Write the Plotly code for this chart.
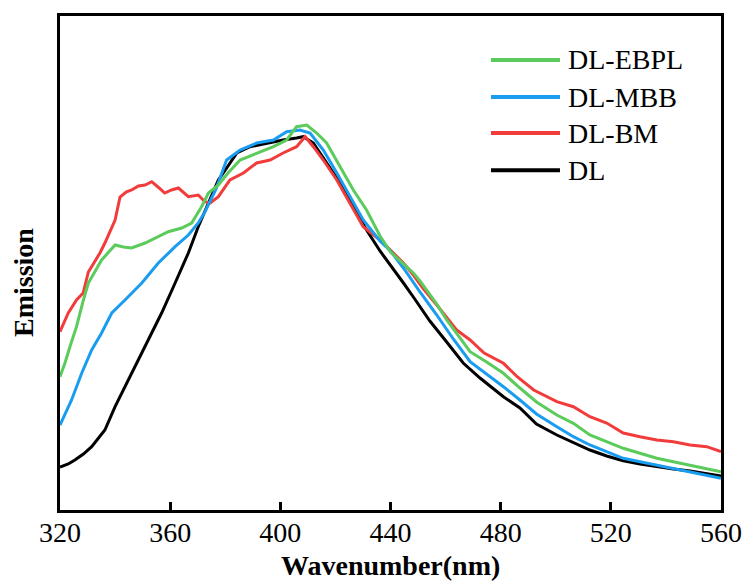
import plotly.graph_objects as go

# ---------------- data ----------------
dl_x = [320, 323, 325.4, 328.5, 331.5, 336.3, 340, 343.6, 348.4, 353.3,
        356.9, 361.8, 366.6, 370.2, 373.9, 377.5, 379.3, 384.2, 389, 395,
        401, 405.9, 408.3, 412, 416.8, 421.7, 426.5, 431.3, 436.2, 440,
        444.7, 448.3, 454.3, 460.4, 466.4, 472.5, 481, 487, 493, 500.4,
        505, 512.4, 518.5, 524.5, 530.6, 536.7, 542.7, 548.8, 554.8, 560]
dl_y = [43, 46, 50, 56, 63.3, 80, 103.3, 123.3, 150, 177,
        197, 227, 257, 283.3, 307, 330, 337, 357, 363.3, 367,
        370, 372, 373.3, 367, 347, 327, 303.3, 280, 259, 245,
        227, 213, 189, 168, 147, 132, 113.3, 102, 86, 75,
        69, 60, 54, 49.3, 46, 43.3, 41, 39, 36.7, 34]

mbb_x = [320, 324.2, 327.9, 331.5, 335.1, 338.8, 343.6, 349.7, 355.7, 361.8,
         366.6, 370.2, 372.6, 376.5, 380.5, 385.4, 391.4, 397.5, 402.3, 407.1,
         410.8, 415.6, 420.5, 425.3, 430.1, 436.2, 440, 444.7, 450.7, 456.8,
         462.8, 468.9, 474.9, 481, 487, 493, 500.4, 506.4, 512.4, 518.5,
         524.5, 530.6, 536.7, 542.7, 548.8, 554.8, 560]
mbb_y = [85, 110, 137, 160, 177, 197, 210, 227, 247, 263.3,
         275, 287, 298, 320, 350, 360, 367, 370, 378.3, 380,
         377, 360, 337, 313.3, 290, 269, 259, 242, 218, 195,
         171, 148.3, 136, 123.3, 110, 96, 83.3, 73.3, 65, 58.3,
         51.7, 48.3, 45, 41.7, 38.3, 35, 31.7]

ebpl_x = [320, 321.8, 323.6, 326, 328.5, 330.3, 335.1, 340, 343, 346,
          350.9, 354.5, 359.3, 364.2, 367.8, 371.4, 373.9, 377.5, 381, 385.4,
          391.4, 397.5, 402.3, 405.9, 409.6, 413.2, 416.8, 421.7, 426.5, 431.3,
          436.2, 440, 444.7, 448.3, 450.7, 456.8, 460.4, 468.9, 474.9, 481,
          487, 493, 500.4, 506.4, 512.4, 518.5, 524.5, 530.6, 536.7, 542.7,
          548.8, 554.8, 560]
ebpl_y = [133.3, 147, 163.3, 183.3, 210, 227, 250, 265, 263, 262,
          267, 272, 278.3, 282, 287, 303.3, 317, 325, 337, 350,
          357, 363.3, 370, 383.3, 385, 377, 367, 343.3, 320, 300,
          274, 258, 246, 237, 229, 206, 190, 158.3, 148, 136.7,
          122, 108, 95, 86.7, 75, 68.3, 61.7, 56.7, 51.7, 48.3,
          45, 41.7, 38.3]

bm_x = [320, 323, 326, 328.4, 330.3, 334.5, 336.3, 340, 341.8, 344,
        346, 348.5, 350.9, 353.3, 356, 358, 360.5, 363, 366.6, 370.2,
        372.6, 374.5, 377.5, 381.7, 386.6, 391.4, 396.3, 401, 405.9, 409,
        412, 415.6, 420.5, 425.3, 430.1, 436.2, 440, 444.7, 448.3, 452,
        456.8, 460.4, 464, 468.9, 474, 481, 486, 492, 500.4, 506.4,
        512.4, 518.5, 524.5, 530.6, 536.7, 542.7, 548.8, 554.8, 560]
bm_y = [178.3, 197, 210, 217, 238, 257, 267, 290, 313, 318,
        320, 324, 325, 328.3, 322, 317, 320, 322, 313.3, 315,
        308.3, 307, 313.3, 330, 337, 347, 350, 357, 363.3, 373.3,
        363.3, 350, 330, 307, 283.3, 270, 260, 247, 235, 221,
        205, 192, 180, 170, 157, 146.7, 133.3, 120, 108.3, 103.3,
        93.3, 87, 77, 73.3, 70, 68.3, 65, 63.3, 58.3]

x_ticks = [320, 360, 400, 440, 480, 520, 560]
legend_names = ["DL-EBPL", "DL-MBB", "DL-BM", "DL"]

# ---------------- styling ----------------
C_BLACK = "#000000"
C_RED = "#F23C3C"
C_BLUE = "#1A9CF0"
C_GREEN = "#5BCB5B"
FONT = "Liberation Serif, Times New Roman, serif"

series = [
    ("DL", dl_x, dl_y, C_BLACK),
    ("DL-BM", bm_x, bm_y, C_RED),
    ("DL-MBB", mbb_x, mbb_y, C_BLUE),
    ("DL-EBPL", ebpl_x, ebpl_y, C_GREEN),
]

fig = go.Figure()
for name, xs, ys, col in series:
    fig.add_trace(go.Scatter(x=xs, y=ys, mode="lines", name=name,
                             line=dict(color=col, width=3),
                             showlegend=False, hoverinfo="skip"))

# manual legend (long line samples like the reference)
leg_colors = {"DL-EBPL": C_GREEN, "DL-MBB": C_BLUE, "DL-BM": C_RED, "DL": C_BLACK}
leg_rows = [0.911, 0.836, 0.763, 0.688]
shapes = []
annotations = []
for nm, yy in zip(legend_names, leg_rows):
    shapes.append(dict(type="line", xref="paper", yref="paper",
                       x0=0.652, x1=0.7564, y0=yy, y1=yy,
                       line=dict(color=leg_colors[nm], width=4)))
    annotations.append(dict(text=nm, xref="paper", yref="paper",
                            x=0.7655, y=yy, xanchor="left", yanchor="middle",
                            showarrow=False,
                            font=dict(family=FONT, size=28, color="black")))

annotations.append(dict(text="<b>Wavenumber(nm)</b>", xref="paper", yref="paper",
                        x=0.5, y=-0.113, xanchor="center", yanchor="middle",
                        showarrow=False,
                        font=dict(family=FONT, size=28, color="black")))
annotations.append(dict(text="<b>Emission</b>", xref="paper", yref="paper",
                        x=-0.056, y=0.4615, xanchor="center", yanchor="middle",
                        textangle=-90, showarrow=False,
                        font=dict(family=FONT, size=28, color="black")))

fig.update_layout(
    template="none",
    width=747, height=581,
    margin=dict(l=60, r=26, t=16, b=71, pad=0),
    paper_bgcolor="white", plot_bgcolor="white",
    showlegend=False,
    shapes=shapes, annotations=annotations,
    font=dict(family=FONT, size=28, color="black"),
)
fig.update_xaxes(range=[320, 560], tickvals=x_ticks,
                 ticktext=[str(v) for v in x_ticks],
                 ticks="inside", ticklen=8, tickwidth=2.5, tickcolor="black",
                 showline=True, linecolor="black", linewidth=3, mirror=True,
                 showgrid=False, zeroline=False, automargin=False,
                 tickfont=dict(family=FONT, size=28, color="black"),
                 ticklabelstandoff=-5)
fig.update_yaxes(range=[0, 494], showticklabels=False, ticks="",
                 showline=True, linecolor="black", linewidth=3, mirror=True,
                 showgrid=False, zeroline=False, automargin=False)

fig.write_html("out.html",
               config={"displayModeBar": False},
               post_script="document.body.style.margin='0';document.body.style.overflow='hidden';")
